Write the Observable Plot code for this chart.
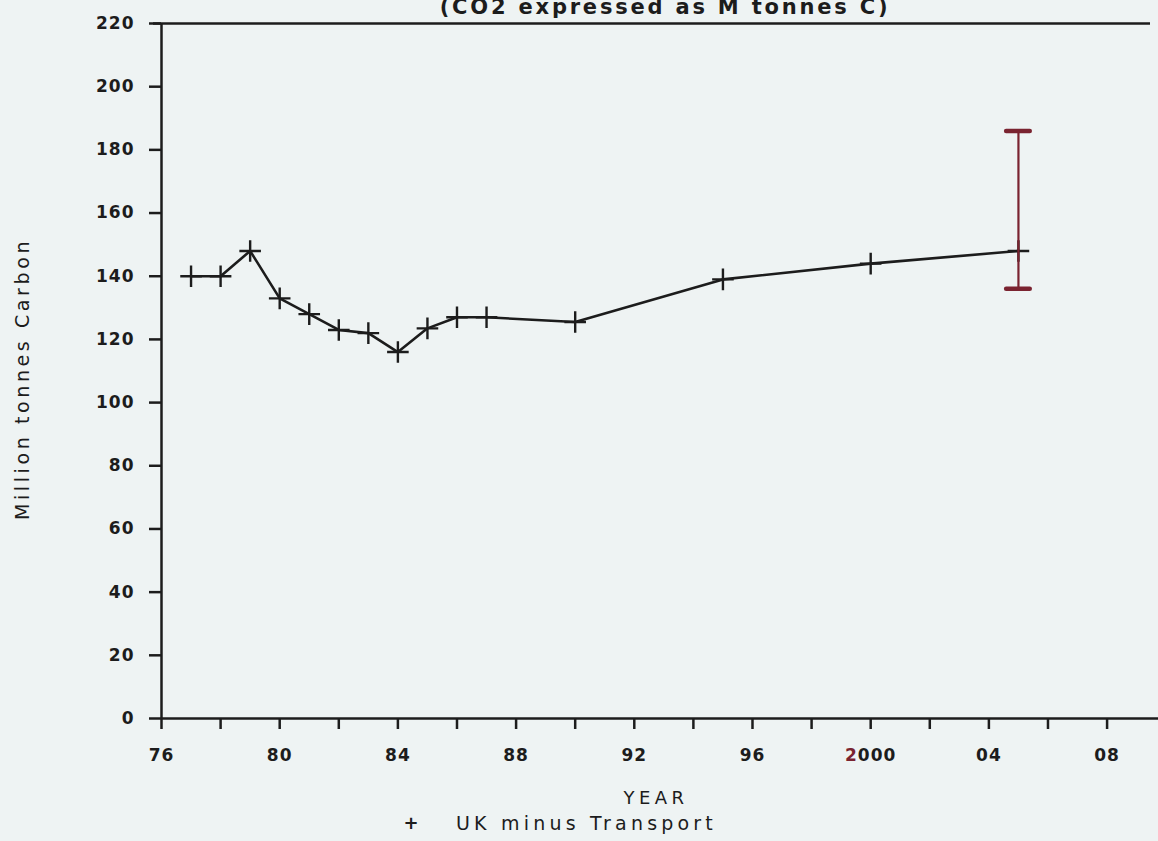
<!DOCTYPE html>
<html>
<head>
<meta charset="utf-8">
<script src="https://cdn.jsdelivr.net/npm/d3@7"></script>
<script src="https://cdn.jsdelivr.net/npm/@observablehq/plot@0.6"></script>
<style>
  html, body { margin: 0; padding: 0; background: #eef3f3; }
  #chart { width: 1158px; height: 841px; overflow: hidden; }
</style>
</head>
<body>
<div id="chart"></div>
<script>
// ---- data ----
const years  = [1977, 1978, 1979, 1980, 1981, 1982, 1983, 1984, 1985, 1986, 1987, 1990, 1995, 2000, 2005];
const values = [140, 140, 148, 133, 128, 123, 122, 116, 123.5, 127, 127, 125.5, 139, 144, 148];
const errYear = 2005;
const errLow = 136;
const errHigh = 186;
const yTicks = [0, 20, 40, 60, 80, 100, 120, 140, 160, 180, 200, 220];
const xMinorTicks = [1976, 1978, 1980, 1982, 1984, 1986, 1988, 1990, 1992, 1994, 1996, 1998, 2000, 2002, 2004, 2006, 2008];
const xLabelTicks = [1976, 1980, 1984, 1988, 1992, 1996, 2000, 2004, 2008];
const xTickLabels = ["76", "80", "84", "88", "92", "96", "2000", "04", "08"];
const titleText = "(CO2 expressed as M tonnes C)";
const yLabel = "Million tonnes Carbon";
const xLabel = "YEAR";
const seriesName = "UK minus Transport";

const data = years.map((y, i) => ({year: y, value: values[i]}));
const ink = "#1c1c1c";
const maroon = "#7a2330";
const font = "DejaVu Sans, sans-serif";

const plot = Plot.plot({
  width: 1158,
  height: 841,
  marginLeft: 161,
  marginRight: 0,
  marginTop: 23,
  marginBottom: 123,
  style: {background: "transparent", fontFamily: font, fontSize: "17px", color: ink},
  x: {domain: [1976, 2009.74]},
  y: {domain: [0, 220]},
  marks: [
    // axes
    Plot.axisY({ticks: yTicks, tickSize: 12, tickPadding: 15, label: null, strokeWidth: 2.5,
      fontSize: 17, fontWeight: "bold", fill: ink}),
    Plot.axisX({ticks: xMinorTicks, tickSize: 11, tickFormat: () => "", label: null, strokeWidth: 2.5}),
    Plot.axisX({ticks: xLabelTicks, tickSize: 0, tickPadding: 30, label: null,
      tickFormat: d => xTickLabels[xLabelTicks.indexOf(d)], fontSize: 17, fontWeight: "bold", fill: ink}),
    Plot.ruleX([1976], {stroke: ink, strokeWidth: 2.5}),
    Plot.ruleY([0], {stroke: ink, strokeWidth: 2.5}),
    Plot.ruleY([220], {stroke: ink, strokeWidth: 2.5, x1: 1976, x2: 2009.74, dx: -8}),
    // series
    Plot.line(data, {x: "year", y: "value", stroke: ink, strokeWidth: 2.6}),
    Plot.dot(data, {x: "year", y: "value", symbol: "plus", r: 7, stroke: ink, strokeWidth: 2.4}),
    // error bar
    Plot.ruleX([errYear], {y1: errLow, y2: errHigh, stroke: maroon, strokeWidth: 2.2}),
    Plot.ruleY([errLow, errHigh], {y: d => d, x1: errYear - 0.4, x2: errYear + 0.4, stroke: maroon, strokeWidth: 4.5, strokeLinecap: "round"}),
    // texts
    Plot.text([titleText], {frameAnchor: "top", dx: 5, dy: -10, lineAnchor: "bottom", fontSize: 21, fontWeight: "bold", fill: ink}),
    Plot.text([yLabel], {frameAnchor: "left", dx: -139, dy: 8, rotate: -90, textAnchor: "middle", fontSize: 19, fill: ink}),
    Plot.text([xLabel], {frameAnchor: "bottom", dx: -4, dy: 85, fontSize: 18, fill: ink}),
    Plot.text(["+"], {frameAnchor: "bottom", dx: -249, dy: 110, fontSize: 18, fontWeight: "bold", fill: ink}),
    Plot.text([seriesName], {frameAnchor: "bottom", dx: -204, dy: 111, textAnchor: "start", fontSize: 19, fill: ink})
  ]
});

document.getElementById("chart").appendChild(plot);

// wide letter spacing of the original plotter font
const spacing = new Map([
  [titleText, "2.8px"], [yLabel, "3.6px"], [xLabel, "4.5px"], [seriesName, "4.2px"]
]);
plot.querySelectorAll("text").forEach(t => {
  const s = t.textContent;
  if (spacing.has(s)) t.style.letterSpacing = spacing.get(s);
  else if (/^\d+$/.test(s)) t.style.letterSpacing = "1px";
  if (s === "2000") {
    // the leading "2" of the 2000 label is hand-corrected in red ink
    t.textContent = "";
    const a = document.createElementNS("http://www.w3.org/2000/svg", "tspan");
    a.textContent = "2";
    a.setAttribute("fill", maroon);
    const b = document.createElementNS("http://www.w3.org/2000/svg", "tspan");
    b.textContent = "000";
    t.appendChild(a);
    t.appendChild(b);
  }
});
</script>
</body>
</html>
